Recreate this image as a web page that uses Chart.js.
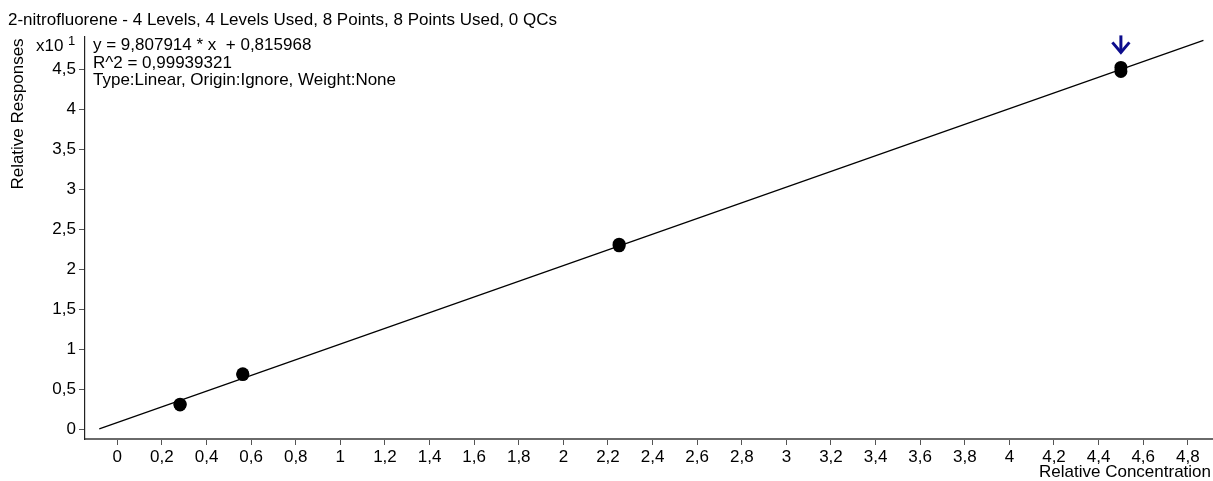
<!DOCTYPE html>
<html>
<head>
<meta charset="utf-8">
<title>2-nitrofluorene calibration</title>
<script src="https://cdn.jsdelivr.net/npm/chart.js@4/dist/chart.umd.min.js"></script>
<style>
  html, body { margin: 0; padding: 0; background: #ffffff; }
  #wrap { width: 1213px; height: 481px; position: relative; }
  canvas { display: block; }
</style>
</head>
<body>
<div id="wrap"><canvas id="cal" width="1213" height="481"></canvas></div>
<script>
// Calibration levels (relative concentration) and replicate responses (x10^1)
const levelConc = [0.28125, 0.28125, 0.5625, 0.5625, 2.25, 2.25, 4.5, 4.5];
const levelResp = [0.30, 0.31, 0.68, 0.69, 2.29, 2.31, 4.47, 4.52];

// Fit reported by the calibration
const fitSlope = 9.807914;
const fitIntercept = 0.815968;
const fitR2 = 0.99939321;
const respExponent = 1;            // responses shown as x10^1
const fitRange = [-0.081, 4.87];   // extent of the drawn regression line

// Axis ticks
const xTickValues = [0, 0.2, 0.4, 0.6, 0.8, 1, 1.2, 1.4, 1.6, 1.8, 2, 2.2, 2.4, 2.6, 2.8, 3, 3.2, 3.4, 3.6, 3.8, 4, 4.2, 4.4, 4.6, 4.8];
const yTickValues = [0, 0.5, 1, 1.5, 2, 2.5, 3, 3.5, 4, 4.5];
const xLimits = [-0.145, 4.913];
const yLimits = [-0.125, 4.9];

const titleText = '2-nitrofluorene - 4 Levels, 4 Levels Used, 8 Points, 8 Points Used, 0 QCs';
const infoLines = [
  'y = 9,807914 * x  + 0,815968',
  'R^2 = 0,99939321',
  'Type:Linear, Origin:Ignore, Weight:None'
];
const xTitle = 'Relative Concentration';
const yTitle = 'Relative Responses';

const FONT = '"Liberation Sans", Arial, sans-serif';
const FS = 17;
const comma = v => String(Math.round(v * 1000) / 1000).replace('.', ',');

const scaleDiv = Math.pow(10, respExponent);
const fitLine = fitRange.map(x => ({ x: x, y: (fitSlope * x + fitIntercept) / scaleDiv }));
const points = levelConc.map((x, i) => ({ x: x, y: levelResp[i] }));

const overlay = {
  id: 'overlay',
  afterDraw(chart) {
    const ctx = chart.ctx;
    const xs = chart.scales.x, ys = chart.scales.y;
    ctx.save();
    ctx.fillStyle = '#000';
    ctx.textBaseline = 'middle';
    ctx.font = FS + 'px ' + FONT;
    ctx.textAlign = 'left';
    ctx.fillText(titleText, 8, 20);
    infoLines.forEach((t, i) => ctx.fillText(t, 93, 45.5 + i * 17.5));
    ctx.fillText('x10', 36, 46);
    ctx.font = '13px ' + FONT;
    ctx.fillText(String(respExponent), 68, 41);

    // axis titles
    ctx.font = FS + 'px ' + FONT;
    ctx.textAlign = 'right';
    ctx.fillText(xTitle, 1211, 472);
    ctx.save();
    ctx.translate(18, 114);
    ctx.rotate(-Math.PI / 2);
    ctx.textAlign = 'center';
    ctx.fillText(yTitle, 0, 0);
    ctx.restore();

    // marker arrow above the highest level
    const topX = levelConc[levelConc.length - 1];
    const topY = Math.max(...levelResp);
    const px = xs.getPixelForValue(topX);
    const py = ys.getPixelForValue(topY);
    ctx.strokeStyle = '#0c0c8c';
    ctx.lineWidth = 3;
    ctx.lineCap = 'butt';
    ctx.lineJoin = 'miter';
    ctx.beginPath();
    ctx.moveTo(px, py - 32);
    ctx.lineTo(px, py - 15);
    ctx.stroke();
    ctx.beginPath();
    ctx.moveTo(px - 8.5, py - 25);
    ctx.lineTo(px, py - 15);
    ctx.lineTo(px + 8.5, py - 25);
    ctx.stroke();
    ctx.restore();
  }
};

new Chart(document.getElementById('cal'), {
  type: 'scatter',
  data: {
    datasets: [
      {
        type: 'line',
        data: fitLine,
        borderColor: '#000',
        borderWidth: 1.2,
        pointRadius: 0,
        fill: false,
        order: 2
      },
      {
        data: points,
        backgroundColor: '#000',
        borderColor: '#000',
        borderWidth: 0,
        pointRadius: 6.5,
        order: 1
      }
    ]
  },
  options: {
    responsive: false,
    animation: false,
    devicePixelRatio: 1,
    layout: { autoPadding: false, padding: { top: 37, left: 0, right: 0, bottom: 0 } },
    plugins: { legend: { display: false }, tooltip: { enabled: false }, title: { display: false } },
    scales: {
      x: {
        type: 'linear',
        min: xLimits[0],
        max: xLimits[1],
        afterBuildTicks: s => { s.ticks = xTickValues.map(v => ({ value: v })); },
        afterFit: s => { s.height = 42; s.paddingLeft = 0; s.paddingRight = 0; },
        ticks: {
          autoSkip: false,
          maxRotation: 0,
          padding: 2,
          color: '#000',
          font: { family: FONT, size: FS },
          callback: v => comma(v)
        },
        grid: { drawOnChartArea: false, drawTicks: true, tickLength: 6, color: '#555', lineWidth: 1 },
        border: { display: true, color: '#6a6a6a', width: 2 }
      },
      y: {
        type: 'linear',
        min: yLimits[0],
        max: yLimits[1],
        afterBuildTicks: s => { s.ticks = yTickValues.map(v => ({ value: v })); },
        afterFit: s => { s.width = 85; s.paddingTop = 0; s.paddingBottom = 0; },
        ticks: {
          autoSkip: false,
          padding: 3,
          color: '#000',
          font: { family: FONT, size: FS },
          callback: v => comma(v)
        },
        grid: { drawOnChartArea: false, drawTicks: true, tickLength: 6, color: '#555', lineWidth: 1 },
        border: { display: true, color: '#222', width: 1.2 }
      }
    }
  },
  plugins: [overlay]
});
</script>
</body>
</html>
